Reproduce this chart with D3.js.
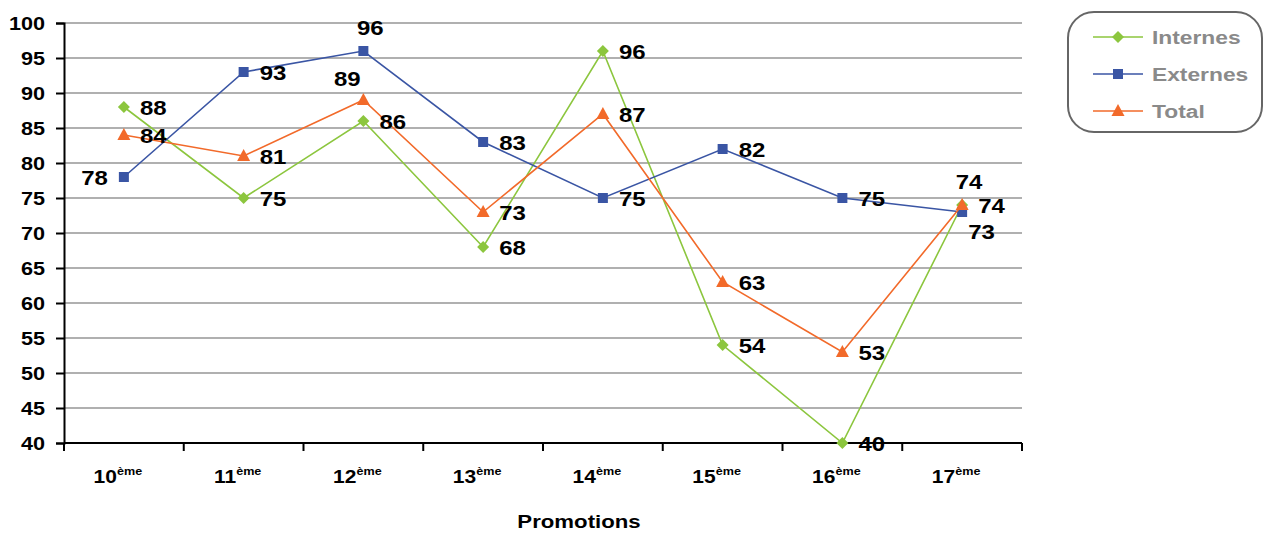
<!DOCTYPE html>
<html><head><meta charset="utf-8">
<script src="https://cdn.jsdelivr.net/npm/d3@7"></script>
<style>body{margin:0;background:#fff;}svg{display:block;font-family:"Liberation Sans",Arial,sans-serif;}</style>
</head><body>
<svg id="c" width="1264" height="533"></svg>
<script>
const categories = ["10","11","12","13","14","15","16","17"];
const internes = [88,75,86,68,96,54,40,74];
const externes = [78,93,96,83,75,82,75,73];
const total = [84,81,89,73,87,63,53,74];
const yTicks = [40,45,50,55,60,65,70,75,80,85,90,95,100];
const seriesNames = ["Internes","Externes","Total"];
// label placement per point: r=right, l=left, t=above, tl=above-left, br=below-right
const placeInternes = ["r","r","r","r","r","r","r","r"];
const placeExternes = ["l","r","t","r","r","r","r","br"];
const placeTotal = ["r","r","tl","r","r","r","r","t"];

const SX = 1.2; // horizontal text stretch of the reference
const svg = d3.select("#c");
const L=64, R=1022, T=23, B=443;
const x = d3.scaleBand().domain(categories).range([L,R]);
const y = d3.scaleLinear().domain([40,100]).range([B,T]);
const cx = c => x(c) + x.bandwidth()/2;

function txt(parent, px, py, str, size, anchor, fill){
  return parent.append("text")
    .attr("transform",`translate(${px},${py}) scale(${SX},1)`)
    .attr("text-anchor",anchor||"start").attr("font-weight","bold")
    .attr("font-size",size).attr("fill",fill||"#000").text(str);
}

// gridlines
svg.append("g").selectAll("line").data(yTicks.filter(v=>v>40)).join("line")
  .attr("x1",L).attr("x2",R).attr("y1",d=>y(d)).attr("y2",d=>y(d))
  .attr("stroke","#969696").attr("stroke-width",1.3);

// y axis
const ya = svg.append("g").attr("transform",`translate(${L},0)`)
  .call(d3.axisLeft(y).tickValues(yTicks).tickSize(8).tickFormat(""));
ya.select(".domain").attr("stroke","#000").attr("stroke-width",2);
ya.selectAll(".tick line").attr("stroke","#000").attr("stroke-width",2);
yTicks.forEach(v=>txt(svg, 45, y(v)+6.5, String(v), 18, "end"));

// x axis
const xa = svg.append("g").attr("transform",`translate(0,${B})`);
xa.append("line").attr("x1",L).attr("x2",R).attr("y1",0).attr("y2",0).attr("stroke","#000").attr("stroke-width",2);
const bounds = categories.map(c=>x(c)).concat([R]);
xa.selectAll("line.t").data(bounds).join("line").attr("class","t")
  .attr("x1",d=>d).attr("x2",d=>d).attr("y1",0).attr("y2",8).attr("stroke","#000").attr("stroke-width",2);
categories.forEach(c=>{
  const t = svg.append("text")
    .attr("transform",`translate(${cx(c)-6},${B+40}) scale(${SX},1)`)
    .attr("text-anchor","middle").attr("font-weight","bold").attr("font-size",17.5).attr("fill","#000");
  t.append("tspan").text(c);
  t.append("tspan").attr("font-size",10.5).attr("dy",-8).text("ème");
});

txt(svg, 579, 528, "Promotions", 18.5, "middle");

const colors = ["#8cc63e","#3a55a4","#f26a2a"];
const data = [internes, externes, total];
const places = [placeInternes, placeExternes, placeTotal];
const line = d3.line().x((d,i)=>cx(categories[i])).y(d=>y(d));

function marker(g, k, px, py){
  if(k===0){
    const s=6;
    g.append("path").attr("d",`M${px},${py-s}L${px+s},${py}L${px},${py+s}L${px-s},${py}Z`).attr("fill",colors[k]);
  } else if(k===1){
    g.append("rect").attr("x",px-5).attr("y",py-5).attr("width",10).attr("height",10).attr("fill",colors[k]);
  } else {
    g.append("path").attr("d",`M${px},${py-7}L${px+6.5},${py+5}L${px-6.5},${py+5}Z`).attr("fill",colors[k]);
  }
}

const offsets = {r:[16,8,"start"], l:[-16,8,"end"], t:[7,-16,"middle"], tl:[-16,-14,"middle"], br:[6,27,"start"]};

data.forEach((vals,k)=>{
  const g = svg.append("g");
  g.append("path").datum(vals).attr("d",line).attr("fill","none").attr("stroke",colors[k]).attr("stroke-width",1.6);
  vals.forEach((v,i)=>marker(g,k,cx(categories[i]),y(v)));
});
data.forEach((vals,k)=>{
  vals.forEach((v,i)=>{
    const o = offsets[places[k][i]];
    txt(svg, cx(categories[i])+o[0], y(v)+o[1], String(v), 20, o[2]);
  });
});

// legend
const lg = svg.append("g");
lg.append("rect").attr("x",1068).attr("y",12).attr("width",194).attr("height",120).attr("rx",26).attr("ry",26)
  .attr("fill","#fff").attr("stroke","#666").attr("stroke-width",2);
seriesNames.forEach((n,k)=>{
  const ly = 37 + k*37;
  lg.append("line").attr("x1",1093).attr("x2",1143).attr("y1",ly).attr("y2",ly).attr("stroke",colors[k]).attr("stroke-width",1.6);
  marker(lg,k,1118,ly);
  txt(lg, 1152, ly+7, n, 19, "start", "#8a8a8a");
});
</script>
</body></html>
